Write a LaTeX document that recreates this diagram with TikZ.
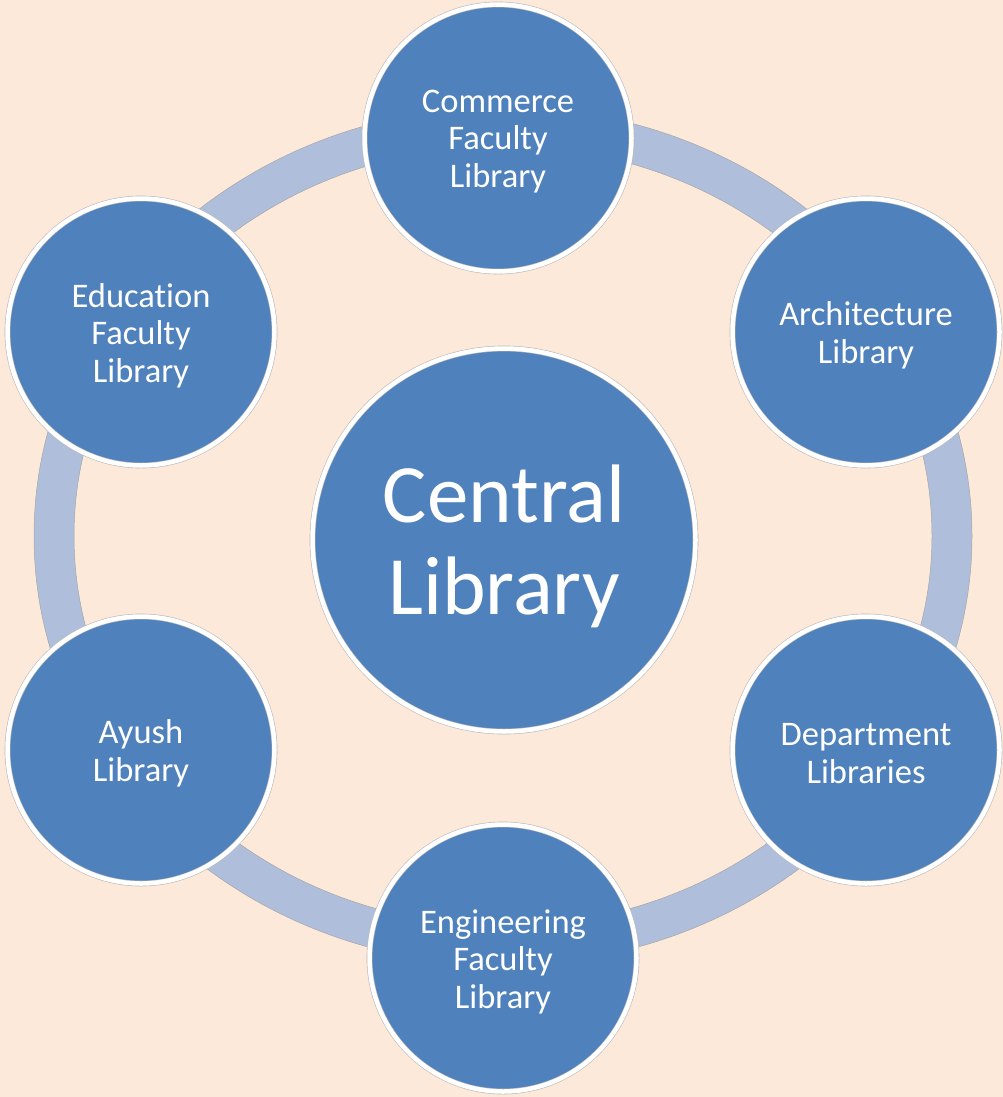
\documentclass[tikz,border=0pt]{standalone}
\usepackage{fontspec}
\setmainfont[Ligatures=NoCommon]{Carlito}
\definecolor{pagepeach}{HTML}{FDE9DA}
\definecolor{ringblue}{HTML}{AFBFDB}
\definecolor{libblue}{HTML}{4F81BD}

\tikzset{
  lib/.style={circle, inner sep=0pt, fill=libblue, draw=gray!55, double=white,
    double distance=4.5pt, line width=0.6pt},
  outerlib/.style={lib, minimum size=267pt},
  centrallib/.style={lib, minimum size=383pt},
  outertext/.style={text=white, align=center, font=\fontsize{34.5}{37.5}\selectfont},
  centraltext/.style={text=white, align=center, font=\fontsize{83}{92}\selectfont},
}

\begin{document}
\begin{tikzpicture}[x=1pt,y=-1pt]
\useasboundingbox (0,0) rectangle (1003,1097);
\fill[pagepeach] (0,0) rectangle (1003,1097);
% the ring behind the circles
\filldraw[ringblue, draw=gray!70, line width=0.5pt, even odd rule]
  (503,536) ellipse [x radius=469, y radius=429]
  (503,536) ellipse [x radius=429, y radius=390];
% centre
\node[centrallib] (central) at (504,540) {};
\node[centraltext] (centralname) at ([yshift=-6pt]central) {Central\\Library};
% libraries round it
\node[outerlib] (commerce) at (498,138) {};
\node[outerlib] (architecture) at (866,332) {};
\node[outerlib] (department) at (866,750) {};
\node[outerlib] (engineering) at (503,958) {};
\node[outerlib] (ayush) at (141,750) {};
\node[outerlib] (education) at (141,332) {};
% their names
\node[outertext] (commercename) at ([yshift=-3.5pt]commerce) {Commerce\\Faculty\\Library};
\node[outertext] (architecturename) at ([yshift=-3.5pt]architecture) {Architecture\\Library};
\node[outertext] (departmentname) at ([yshift=-3.5pt]department) {Department\\Libraries};
\node[outertext] (engineeringname) at ([yshift=-3.5pt]engineering) {Engineering\\Faculty\\Library};
\node[outertext] (ayushname) at ([yshift=-3.5pt]ayush) {Ayush\\Library};
\node[outertext] (educationname) at ([yshift=-3.5pt]education) {Education\\Faculty\\Library};
\end{tikzpicture}
\end{document}
